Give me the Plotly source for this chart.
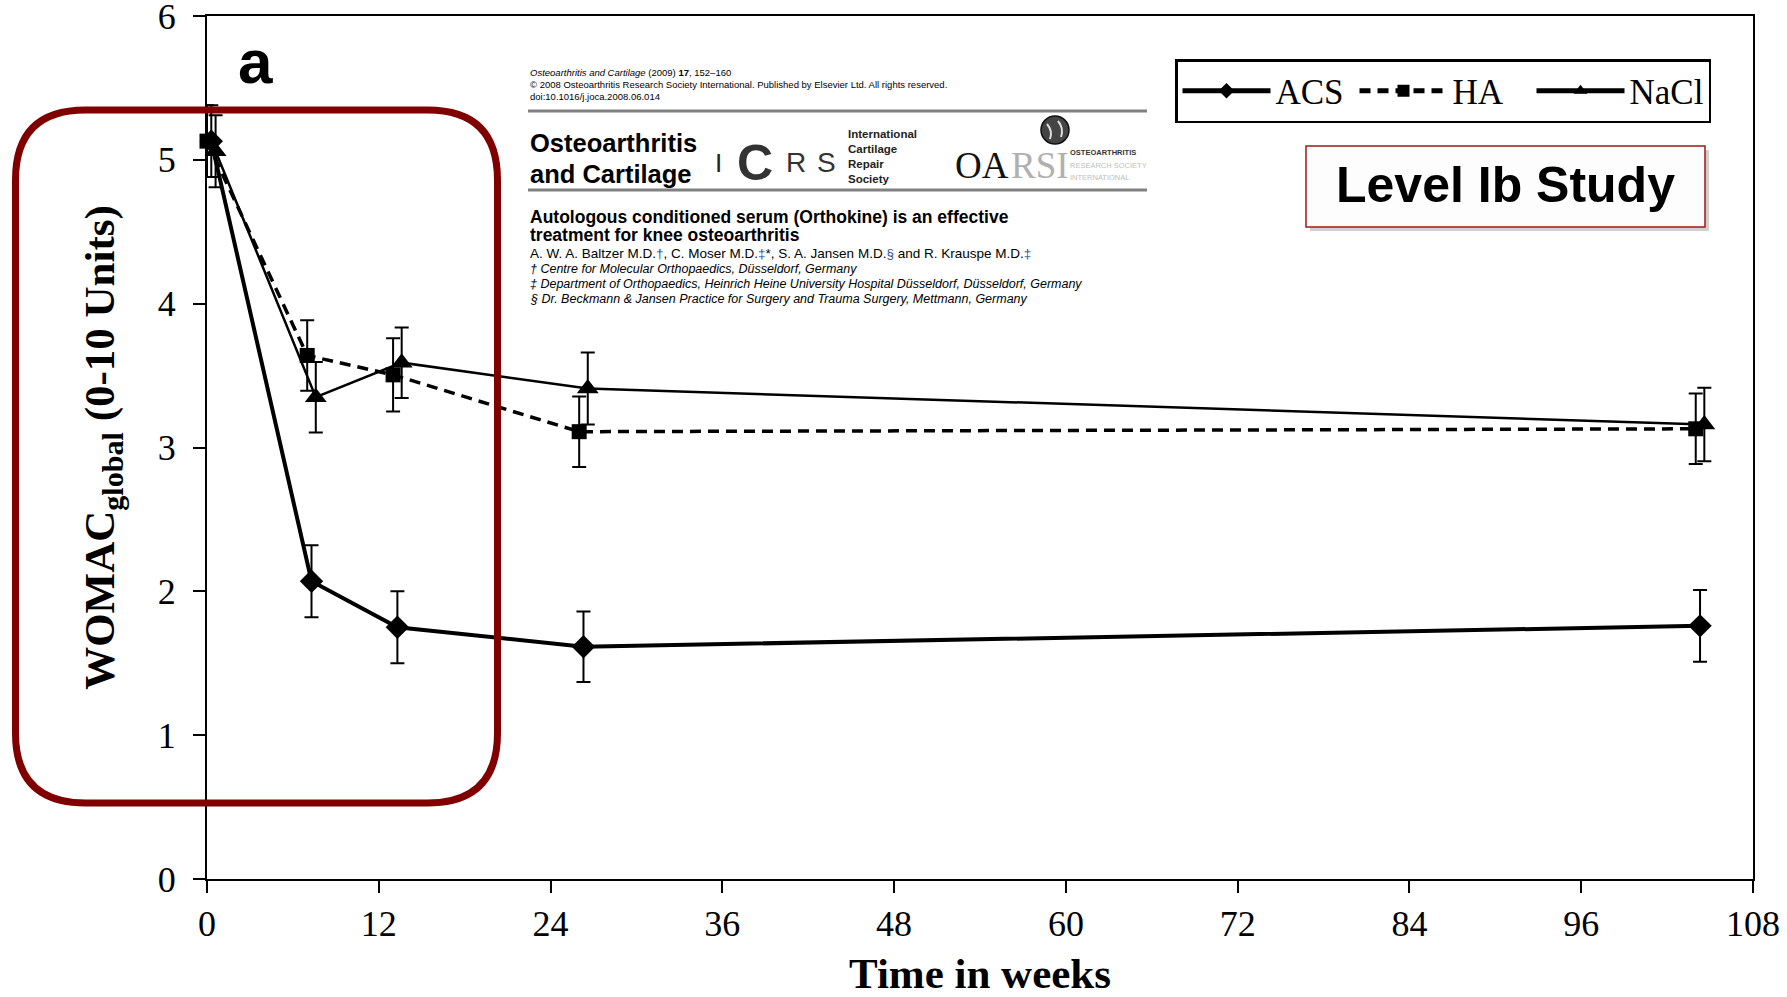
import plotly.graph_objects as go

# ---------------- data ----------------
weeks = [0, 7, 13, 26, 104]
series_names = ["ACS", "HA", "NaCl"]
acs_mean = [5.13, 2.07, 1.75, 1.615, 1.76]
acs_err = [0.25, 0.25, 0.25, 0.245, 0.25]
ha_mean = [5.13, 3.64, 3.505, 3.11, 3.13]
ha_err = [0.25, 0.245, 0.255, 0.245, 0.245]
nacl_mean = [5.06, 3.35, 3.59, 3.41, 3.16]
nacl_err = [0.25, 0.245, 0.245, 0.25, 0.255]
x_ticks = [0, 12, 24, 36, 48, 60, 72, 84, 96, 108]
y_ticks = [0, 1, 2, 3, 4, 5, 6]

W, H = 1787, 997
L, R, T, B = 207, 1753, 16, 879


def px(x):
    return (x - L) / (R - L)


def py(y):
    return (B - y) / (B - T)


SERIF = "Liberation Serif"
SANS = "Liberation Sans"

fig = go.Figure()

styles = [
    dict(name="ACS", y=acs_mean, e=acs_err, dodge=0.3, symbol="diamond", size=18,
         width=4, dash="solid"),
    dict(name="HA", y=ha_mean, e=ha_err, dodge=0.0, symbol="square", size=15,
         width=3.5, dash="11px,7px"),
    dict(name="NaCl", y=nacl_mean, e=nacl_err, dodge=0.6, symbol="triangle-up", size=19,
         width=2.5, dash="solid"),
]
for s in styles:
    fig.add_trace(go.Scatter(
        x=[w + s["dodge"] for w in weeks], y=s["y"], name=s["name"],
        mode="lines+markers",
        line=dict(color="black", width=s["width"], dash=s["dash"]),
        marker=dict(symbol=s["symbol"], size=s["size"], color="black"),
        error_y=dict(type="data", array=s["e"], visible=True, color="black",
                     thickness=2, width=7),
        cliponaxis=False,
    ))

shapes = []
annotations = []

# red rounded rectangle
x0, x1, y0, y1, r = 15.5, 497.5, 110, 803, 70


def P(x, y):
    return f"{px(x):.5f},{py(y):.5f}"


path = (f"M{P(x0 + r, y0)} L{P(x1 - r, y0)} Q{P(x1, y0)} {P(x1, y0 + r)} "
        f"L{P(x1, y1 - r)} Q{P(x1, y1)} {P(x1 - r, y1)} "
        f"L{P(x0 + r, y1)} Q{P(x0, y1)} {P(x0, y1 - r)} "
        f"L{P(x0, y0 + r)} Q{P(x0, y0)} {P(x0 + r, y0)} Z")
shapes.append(dict(type="path", path=path, xref="paper", yref="paper",
                   line=dict(color="#800000", width=7), layer="above"))

# citation rules
for yy in (111, 190):
    shapes.append(dict(type="line", xref="paper", yref="paper",
                       x0=px(528), x1=px(1147), y0=py(yy), y1=py(yy),
                       line=dict(color="#808080", width=3)))

# Level Ib Study box with shadow
shapes.append(dict(type="rect", xref="paper", yref="paper",
                   x0=px(1310), x1=px(1709), y0=py(150), y1=py(231),
                   fillcolor="rgba(120,120,120,0.35)", line=dict(width=0)))
shapes.append(dict(type="rect", xref="paper", yref="paper",
                   x0=px(1306), x1=px(1705), y0=py(146), y1=py(227),
                   fillcolor="#fdfdfd", line=dict(color="#a01818", width=1.5)))

# globe
shapes.append(dict(type="circle", xref="paper", yref="paper",
                   x0=px(1041), x1=px(1069), y0=py(116), y1=py(144),
                   fillcolor="#444444", line=dict(color="#111", width=1.5)))
shapes.append(dict(type="path", xref="paper", yref="paper",
                   path=f"M{P(1047, 124)} Q{P(1053, 131)} {P(1050, 139)}",
                   line=dict(color="#dddddd", width=2)))
shapes.append(dict(type="path", xref="paper", yref="paper",
                   path=f"M{P(1058, 121)} Q{P(1064, 128)} {P(1061, 137)}",
                   line=dict(color="#dddddd", width=2)))


def txt(x, y, text, size, family=SANS, color="black", anchor="left", **kw):
    annotations.append(dict(x=px(x), y=py(y), xref="paper", yref="paper",
                            text=text, showarrow=False, xanchor=anchor,
                            yanchor="middle", font=dict(size=size, family=family,
                                                        color=color), **kw))


txt(255, 62, "<b>a</b>", 62, anchor="center")

txt(528, 72, "<i>Osteoarthritis and Cartilage</i> (2009) <b>17</b>, 152–160", 9.5)
txt(528, 84.5, "© 2008 Osteoarthritis Research Society International. Published by Elsevier Ltd. All rights reserved.", 9.5)
txt(528, 97, "doi:10.1016/j.joca.2008.06.014", 9.5)
txt(528, 143, "<b>Osteoarthritis</b>", 25.5)
txt(528, 174, "<b>and Cartilage</b>", 25.5)
txt(718, 163, "I", 26, color="#222", anchor="center")
txt(755, 163, "<b>C</b>", 50, color="#333", anchor="center")
txt(796, 163, "R", 28, color="#333", anchor="center")
txt(826, 163, "S", 28, color="#333", anchor="center")
for yy, t in zip((134, 149, 164, 179), ("International", "Cartilage", "Repair", "Society")):
    txt(846, yy, f"<b>{t}</b>", 11.5, color="#222")
txt(1011, 166, "OA", 37, family=SERIF, color="#111", anchor="right")
txt(1009, 166, "RSI", 37, family=SERIF, color="#b0b0b0", anchor="left")
txt(1068, 152, "<b>OSTEOARTHRITIS</b>", 7.5, color="#333")
txt(1068, 165, "RESEARCH SOCIETY", 7.5, color="#c0c0c0")
txt(1068, 178, "INTERNATIONAL", 7.5, color="#c0c0c0")
txt(528, 216.5, "<b>Autologous conditioned serum (Orthokine) is an effective</b>", 17.5)
txt(528, 235, "<b>treatment for knee osteoarthritis</b>", 17.5)
blue = "color:#3050a0"
txt(528, 253, f"A. W. A. Baltzer M.D.<span style='{blue}'>†</span>, C. Moser M.D.<span style='{blue}'>‡</span>*, "
    f"S. A. Jansen M.D.<span style='{blue}'>§</span> and R. Krauspe M.D.<span style='{blue}'>‡</span>", 13.5)
txt(528, 269, "<i>† Centre for Molecular Orthopaedics, Düsseldorf, Germany</i>", 12.5)
txt(528, 284, "<i>‡ Department of Orthopaedics, Heinrich Heine University Hospital Düsseldorf, Düsseldorf, Germany</i>", 12.5)
txt(528, 298.5, "<i>§ Dr. Beckmann &amp; Jansen Practice for Surgery and Trauma Surgery, Mettmann, Germany</i>", 12.5)

txt(1505.5, 185, "<b>Level Ib Study</b>", 50, anchor="center")

fig.update_layout(
    width=W, height=H,
    margin=dict(l=L, r=W - R, t=T, b=H - B, pad=0, autoexpand=False),
    paper_bgcolor="white", plot_bgcolor="white",
    showlegend=True,
    legend=dict(orientation="h", x=px(1175), y=py(59), xanchor="left", yanchor="top",
                bordercolor="black", borderwidth=2.5, bgcolor="white",
                font=dict(family=SERIF, size=35, color="black"),
                itemwidth=88, itemsizing="constant", entrywidth=74,
                entrywidthmode="pixels", tracegroupgap=0),
    xaxis=dict(range=[0, 108], tickvals=x_ticks, ticktext=[str(v) for v in x_ticks],
               automargin=False,
               showgrid=False, zeroline=False, showline=True, linecolor="black",
               linewidth=2, mirror=True, ticks="outside", ticklen=12, tickwidth=1.5,
               tickcolor="black", tickfont=dict(family=SERIF, size=36, color="black"),
               ticklabeloverflow="allow",
               title=dict(text="<b>Time in weeks</b>",
                          font=dict(family=SERIF, size=43, color="black"), standoff=22)),
    yaxis=dict(range=[0, 6], tickvals=y_ticks, ticktext=[str(v) for v in y_ticks],
               automargin=False,
               showgrid=False, zeroline=False, showline=True, linecolor="black",
               linewidth=2, mirror=True, ticks="outside", ticklen=12, tickwidth=1.5,
               tickcolor="black", tickfont=dict(family=SERIF, size=36, color="black"),
               ticklabeloverflow="allow", ticklabelstandoff=10,
               title=dict(text="<b>WOMAC<sub>global</sub> (0-10 Units)</b>",
                          font=dict(family=SERIF, size=43, color="black"), standoff=30)),
    shapes=shapes,
    annotations=annotations,
)

fig.write_html("out.html")
